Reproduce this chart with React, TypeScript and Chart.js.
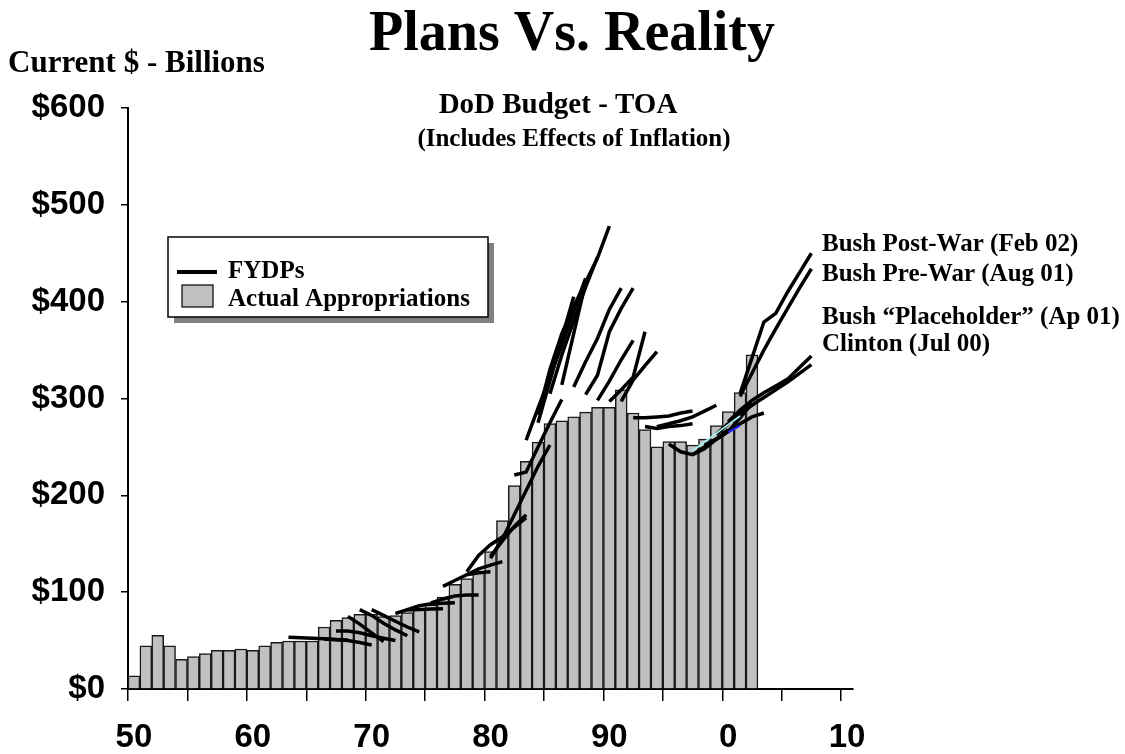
import React, { useEffect, useRef } from "react";
import { Chart, registerables } from "chart.js";

Chart.register(...registerables);

// ---------- data ----------
const FIRST_YEAR = 1950;
const LAST_YEAR = 2010;
const YEARS: string[] = [];
for (let y = FIRST_YEAR; y <= LAST_YEAR; y++) YEARS.push(String(y));

// Actual appropriations (TOA, current $B), FY1950 .. FY2002
const APPROPRIATIONS = [
  13.7, 44.7, 55.4, 44.7, 30.6, 33.4, 36.5, 40, 40, 41.3,
  40, 44.7, 48.2, 49.6, 49.6, 49.6, 64, 71, 73.7, 77,
  77, 74.7, 75.8, 79, 82, 87, 95, 108, 114, 121,
  142, 174, 210, 235, 255, 274, 277, 281, 286, 291,
  291, 309, 285, 268, 250, 255.5, 255.5, 252, 258, 272,
  286.5, 306, 345,
];

// FYDP projections: [first fiscal year, values]
const FYDP_1963 = [53.5, 53, 52.5, 52, 51.2, 50.6];
const FYDP_1966 = [51.7, 50.8, 50, 48, 45.5];
const FYDP_1967 = [60, 60, 58, 55, 52.5, 50];
const FYDP_1968 = [75, 67, 58, 49];
const FYDP_1969 = [82, 76, 68, 61, 55];
const FYDP_1970 = [82, 76, 70, 64, 59];
const FYDP_1972 = [78, 82, 86, 88, 88.5, 89];
const FYDP_1973 = [81.5, 82, 82.5, 83];
const FYDP_1975 = [89, 93, 96, 97, 97];
const FYDP_1976 = [106, 112, 118, 120, 121];
const FYDP_1978A = [118, 124, 128, 131.5];
const FYDP_1978B = [121, 138, 149, 157, 167, 177];
const FYDP_1980A = [137, 153, 168, 180];
const FYDP_1980B = [135, 155, 180, 205, 230, 252];
const FYDP_1982 = [221, 224, 250, 275, 299];
const FYDP_1983 = [257, 290, 322, 355, 390, 424];
const FYDP_1984A = [275, 318, 362, 405];
const FYDP_1984B = [283, 330, 367, 395, 420, 445, 478];
const FYDP_1985 = [305, 345, 380, 415, 446];
const FYDP_1986 = [314, 367, 420];
const FYDP_1987 = [312, 338, 362, 392, 414];
const FYDP_1988 = [304, 324, 369, 393, 414];
const FYDP_1989 = [298, 318, 340, 360];
const FYDP_1990 = [297, 309, 322, 369];
const FYDP_1991 = [297, 319, 334, 348.5];
const FYDP_1992 = [280, 280, 281, 282, 285, 287];
const FYDP_1993 = [271, 269, 271, 272, 274];
const FYDP_1994 = [271, 274, 277, 281, 287, 293];
const FYDP_1995 = [253, 245, 242, 248, 258, 268];
const FYDP_1997 = [242, 250, 258, 266, 280, 295];
const FYDP_1998 = [252, 258, 266, 274, 281, 285];
const CLINTON_JUL00 = [263, 274, 284, 293, 301, 309, 317, 326, 335];
const BUSH_PLACEHOLDER_APR01 = [276, 288, 298, 306, 313, 320, 332, 344];
const BUSH_PREWAR_AUG01 = [302, 326, 350, 372, 393, 414, 434];
const BUSH_POSTWAR_FEB02 = [305, 342, 379, 388, 410, 430, 450];
const CYAN_TRACE = [246, 255, 264, 273, 282];
const BLUE_TRACE = [265, 272];

const FYDP_LINES: [number, number[]][] = [
  [1963, FYDP_1963], [1966, FYDP_1966], [1967, FYDP_1967], [1968, FYDP_1968],
  [1969, FYDP_1969], [1970, FYDP_1970], [1972, FYDP_1972], [1973, FYDP_1973],
  [1975, FYDP_1975], [1976, FYDP_1976], [1978, FYDP_1978A], [1978, FYDP_1978B],
  [1980, FYDP_1980A], [1980, FYDP_1980B], [1982, FYDP_1982], [1983, FYDP_1983],
  [1984, FYDP_1984A], [1984, FYDP_1984B], [1985, FYDP_1985], [1986, FYDP_1986],
  [1987, FYDP_1987], [1988, FYDP_1988], [1989, FYDP_1989], [1990, FYDP_1990],
  [1991, FYDP_1991], [1992, FYDP_1992], [1993, FYDP_1993], [1994, FYDP_1994],
  [1995, FYDP_1995], [1997, FYDP_1997], [1998, FYDP_1998],
  [1999, CLINTON_JUL00], [2000, BUSH_PLACEHOLDER_APR01],
  [2001, BUSH_PREWAR_AUG01], [2001, BUSH_POSTWAR_FEB02],
];

const THIN_TRACES: [number, number[], string][] = [
  [1997, CYAN_TRACE, "#a8f0f0"],
  [2000, BLUE_TRACE, "#2020ff"],
];

const Y_MAX = 600;
const Y_STEP = 100;

const RIGHT_LABELS = [
  "Bush Post-War (Feb 02)",
  "Bush Pre-War (Aug 01)",
  "Bush \u201cPlaceholder\u201d (Ap 01)",
  "Clinton (Jul 00)",
];

// ---------- helpers ----------
function placeSeries(start: number, values: number[]): (number | null)[] {
  const out: (number | null)[] = YEARS.map(() => null);
  values.forEach((v, i) => {
    out[start - FIRST_YEAR + i] = v;
  });
  return out;
}

const SERIF = '"Liberation Serif", "Times New Roman", serif';
const SANS = '"Liberation Sans", Arial, sans-serif';

const textPlugin = {
  id: "chartTexts",
  afterDraw(chart: any) {
    const ctx = chart.ctx as CanvasRenderingContext2D;
    ctx.save();
    ctx.fillStyle = "#000";
    ctx.textBaseline = "alphabetic";

    ctx.textAlign = "center";
    ctx.font = `bold 56px ${SERIF}`;
    ctx.fillText("Plans Vs. Reality", 572, 50);
    ctx.font = `bold 29px ${SERIF}`;
    ctx.fillText("DoD Budget - TOA", 558, 113);
    ctx.font = `bold 25px ${SERIF}`;
    ctx.fillText("(Includes Effects of Inflation)", 574, 146);

    ctx.textAlign = "left";
    ctx.font = `bold 31px ${SERIF}`;
    ctx.fillText("Current $ - Billions", 8, 72);

    ctx.font = `bold 25px ${SERIF}`;
    const ys = [251, 281, 324, 351];
    RIGHT_LABELS.forEach((t, i) => ctx.fillText(t, 822, ys[i]));

    // legend box with drop shadow
    const bx = 168, by = 237, bw = 320, bh = 80;
    ctx.fillStyle = "#808080";
    ctx.fillRect(bx + 6, by + 6, bw, bh);
    ctx.fillStyle = "#fff";
    ctx.fillRect(bx, by, bw, bh);
    ctx.strokeStyle = "#000";
    ctx.lineWidth = 1.5;
    ctx.strokeRect(bx, by, bw, bh);

    ctx.beginPath();
    ctx.lineWidth = 4;
    ctx.moveTo(177, 272);
    ctx.lineTo(217, 272);
    ctx.stroke();

    ctx.fillStyle = "#c0c0c0";
    ctx.fillRect(182, 285, 31, 22);
    ctx.lineWidth = 1.2;
    ctx.strokeRect(182, 285, 31, 22);

    ctx.fillStyle = "#000";
    ctx.font = `bold 25px ${SERIF}`;
    ctx.fillText("FYDPs", 228, 278);
    ctx.fillText("Actual Appropriations", 228, 306);
    ctx.restore();
  },
};

export default function App() {
  const ref = useRef<HTMLCanvasElement | null>(null);

  useEffect(() => {
    if (!ref.current) return;

    const barData = placeSeries(FIRST_YEAR, APPROPRIATIONS);

    const lineSets = FYDP_LINES.map(([start, vals], i) => ({
      type: "line" as const,
      label: i === 0 ? "FYDPs" : `FYDP ${start}`,
      data: placeSeries(start, vals),
      borderColor: "#000",
      backgroundColor: "#000",
      borderWidth: 3.5,
      pointRadius: 0,
      tension: 0,
      spanGaps: false,
      order: 0,
    }));

    const thinSets = THIN_TRACES.map(([start, vals, color]) => ({
      type: "line" as const,
      label: "trace",
      data: placeSeries(start, vals),
      borderColor: color,
      borderWidth: 1.8,
      pointRadius: 0,
      tension: 0,
      order: -1,
    }));

    const chart = new Chart(ref.current, {
      type: "bar",
      data: {
        labels: YEARS,
        datasets: [
          {
            type: "bar" as const,
            label: "Actual Appropriations",
            data: barData,
            backgroundColor: "#c0c0c0",
            borderColor: "#1a1a1a",
            borderWidth: 1.5,
            barPercentage: 1,
            categoryPercentage: 1,
            order: 5,
          },
          ...lineSets,
          ...thinSets,
        ] as any,
      },
      options: {
        responsive: false,
        animation: false,
        events: [],
        layout: { padding: { left: 0, right: 272, top: 108, bottom: 0 } },
        plugins: {
          legend: { display: false },
          title: { display: false },
          tooltip: { enabled: false },
        },
        scales: {
          x: {
            type: "category",
            offset: true,
            grid: {
              offset: true,
              drawOnChartArea: false,
              drawTicks: true,
              tickLength: 12,
              lineWidth: 1.5,
              color: (c: any) => (c.index % 5 === 0 ? "#000" : "rgba(0,0,0,0)"),
            },
            border: { display: true, color: "#000", width: 2 },
            ticks: {
              autoSkip: false,
              maxRotation: 0,
              minRotation: 0,
              padding: 17,
              color: "#000",
              font: { family: SANS, weight: "bold", size: 33 },
              callback: (_v: any, idx: number) => {
                const yr = FIRST_YEAR + idx;
                return yr % 10 === 0 ? String(yr % 100) : "";
              },
            },
            afterFit: (s: any) => {
              s.height = 65;
            },
          },
          y: {
            min: 0,
            max: Y_MAX,
            ticks: {
              stepSize: Y_STEP,
              padding: 16,
              color: "#000",
              font: { family: SANS, weight: "bold", size: 33 },
              callback: (v: any) => "$" + v,
            },
            grid: {
              drawOnChartArea: false,
              tickLength: 7,
              lineWidth: 1.5,
              color: "#000",
            },
            border: { display: true, color: "#000", width: 2 },
            afterFit: (s: any) => {
              s.width = 128;
            },
          },
        },
      } as any,
      plugins: [textPlugin],
    });

    return () => chart.destroy();
  }, []);

  return (
    <div style={{ position: "absolute", left: 0, top: 0, width: 1125, height: 754, background: "#fff" }}>
      <canvas ref={ref} width={1125} height={754} />
    </div>
  );
}
